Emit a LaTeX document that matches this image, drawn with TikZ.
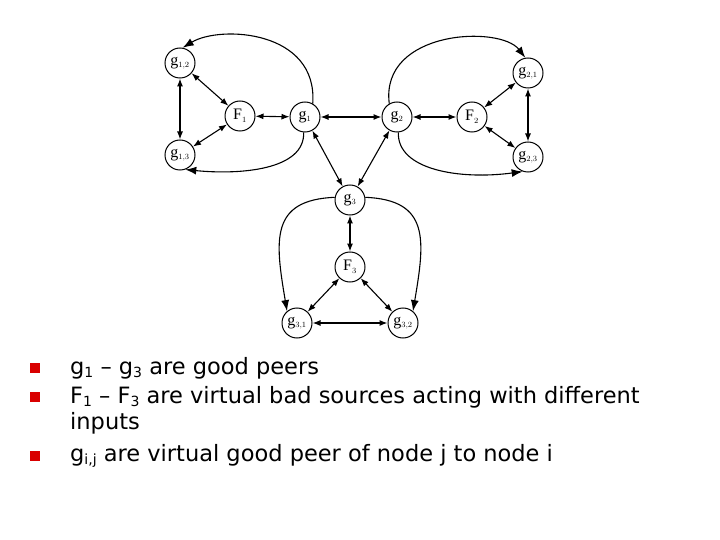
\documentclass[tikz,border=0pt]{standalone}
\usepackage{fontspec}
\setmainfont{Liberation Serif}
\newfontfamily\bodyfont{DejaVu Sans}
\usetikzlibrary{arrows.meta}
\newcommand{\sbs}[1]{\raisebox{-0.3ex}{\fontsize{14}{14}\selectfont #1}}
\begin{document}
\begin{tikzpicture}[x=1pt,y=-1pt,
  nd/.style={circle,draw,line width=1pt,minimum size=30pt,inner sep=0pt,font=\fontsize{16}{16}\selectfont},
  ln/.style={line width=1.1pt,{Latex[length=8pt,width=6pt]}-{Latex[length=8pt,width=6pt]}},
  cv/.style={line width=1.1pt,-{Latex[length=11pt,width=8pt]}},
  bl/.style={fill=red!85!black,minimum size=10pt,inner sep=0pt},
  tx/.style={anchor=west,font=\bodyfont\fontsize{22.5}{24}\selectfont,inner sep=0pt}]
\useasboundingbox (0,0) rectangle (720,540);
\node[nd] (g12) at (180,63) {g$_{\scriptscriptstyle 1,2}$};
\node[nd] (F1) at (240,116) {F$_{\scriptscriptstyle 1}$};
\node[nd] (g1) at (305,117) {g$_{\scriptscriptstyle 1}$};
\node[nd] (g13) at (180,155) {g$_{\scriptscriptstyle 1,3}$};
\node[nd] (g2) at (397,117) {g$_{\scriptscriptstyle 2}$};
\node[nd] (F2) at (472,117) {F$_{\scriptscriptstyle 2}$};
\node[nd] (g21) at (528,73) {g$_{\scriptscriptstyle 2,1}$};
\node[nd] (g23) at (528,157) {g$_{\scriptscriptstyle 2,3}$};
\node[nd] (g3) at (350,200) {g$_{\scriptscriptstyle 3}$};
\node[nd] (F3) at (350,267) {F$_{\scriptscriptstyle 3}$};
\node[nd] (g31) at (297,323) {g$_{\scriptscriptstyle 3,1}$};
\node[nd] (g32) at (403,323) {g$_{\scriptscriptstyle 3,2}$};
\draw[ln] (g12) -- (g13);
\draw[ln] (g12) -- (F1);
\draw[ln] (g13) -- (F1);
\draw[ln] (F1) -- (g1);
\draw[ln] (g1) -- (g2);
\draw[ln] (g2) -- (F2);
\draw[ln] (F2) -- (g21);
\draw[ln] (F2) -- (g23);
\draw[ln] (g21) -- (g23);
\draw[ln] (g1) -- (g3);
\draw[ln] (g2) -- (g3);
\draw[ln] (g3) -- (F3);
\draw[ln] (F3) -- (g31);
\draw[ln] (F3) -- (g32);
\draw[ln] (g31) -- (g32);
\draw[cv] (g1.60) .. controls (318,30) and (220,25) .. (g12.80);
\draw[cv] (g1.-95) .. controls (305,170) and (240,175) .. (g13.-70);
\draw[cv] (g2.120) .. controls (380,30) and (500,25) .. (g21.100);
\draw[cv] (g2.-85) .. controls (397,170) and (460,180) .. (g23.-110);
\draw[cv] (g3.170) .. controls (270,200) and (275,240) .. (g31.130);
\draw[cv] (g3.10) .. controls (430,200) and (425,240) .. (g32.50);
\node[bl] (b1) at (35,368) {};
\node[bl] (b2) at (35,397) {};
\node[bl] (b3) at (35,456) {};
\node[tx] (t1) at (70,368) {g\sbs{1} – g\sbs{3} are good peers};
\node[tx] (t2) at (70,397) {F\sbs{1} – F\sbs{3} are virtual bad sources acting with different};
\node[tx] (t3) at (70,423) {inputs};
\node[tx] (t4) at (70,456) {g\sbs{i,j} are virtual good peer of node j to node i};
\end{tikzpicture}
\end{document}
